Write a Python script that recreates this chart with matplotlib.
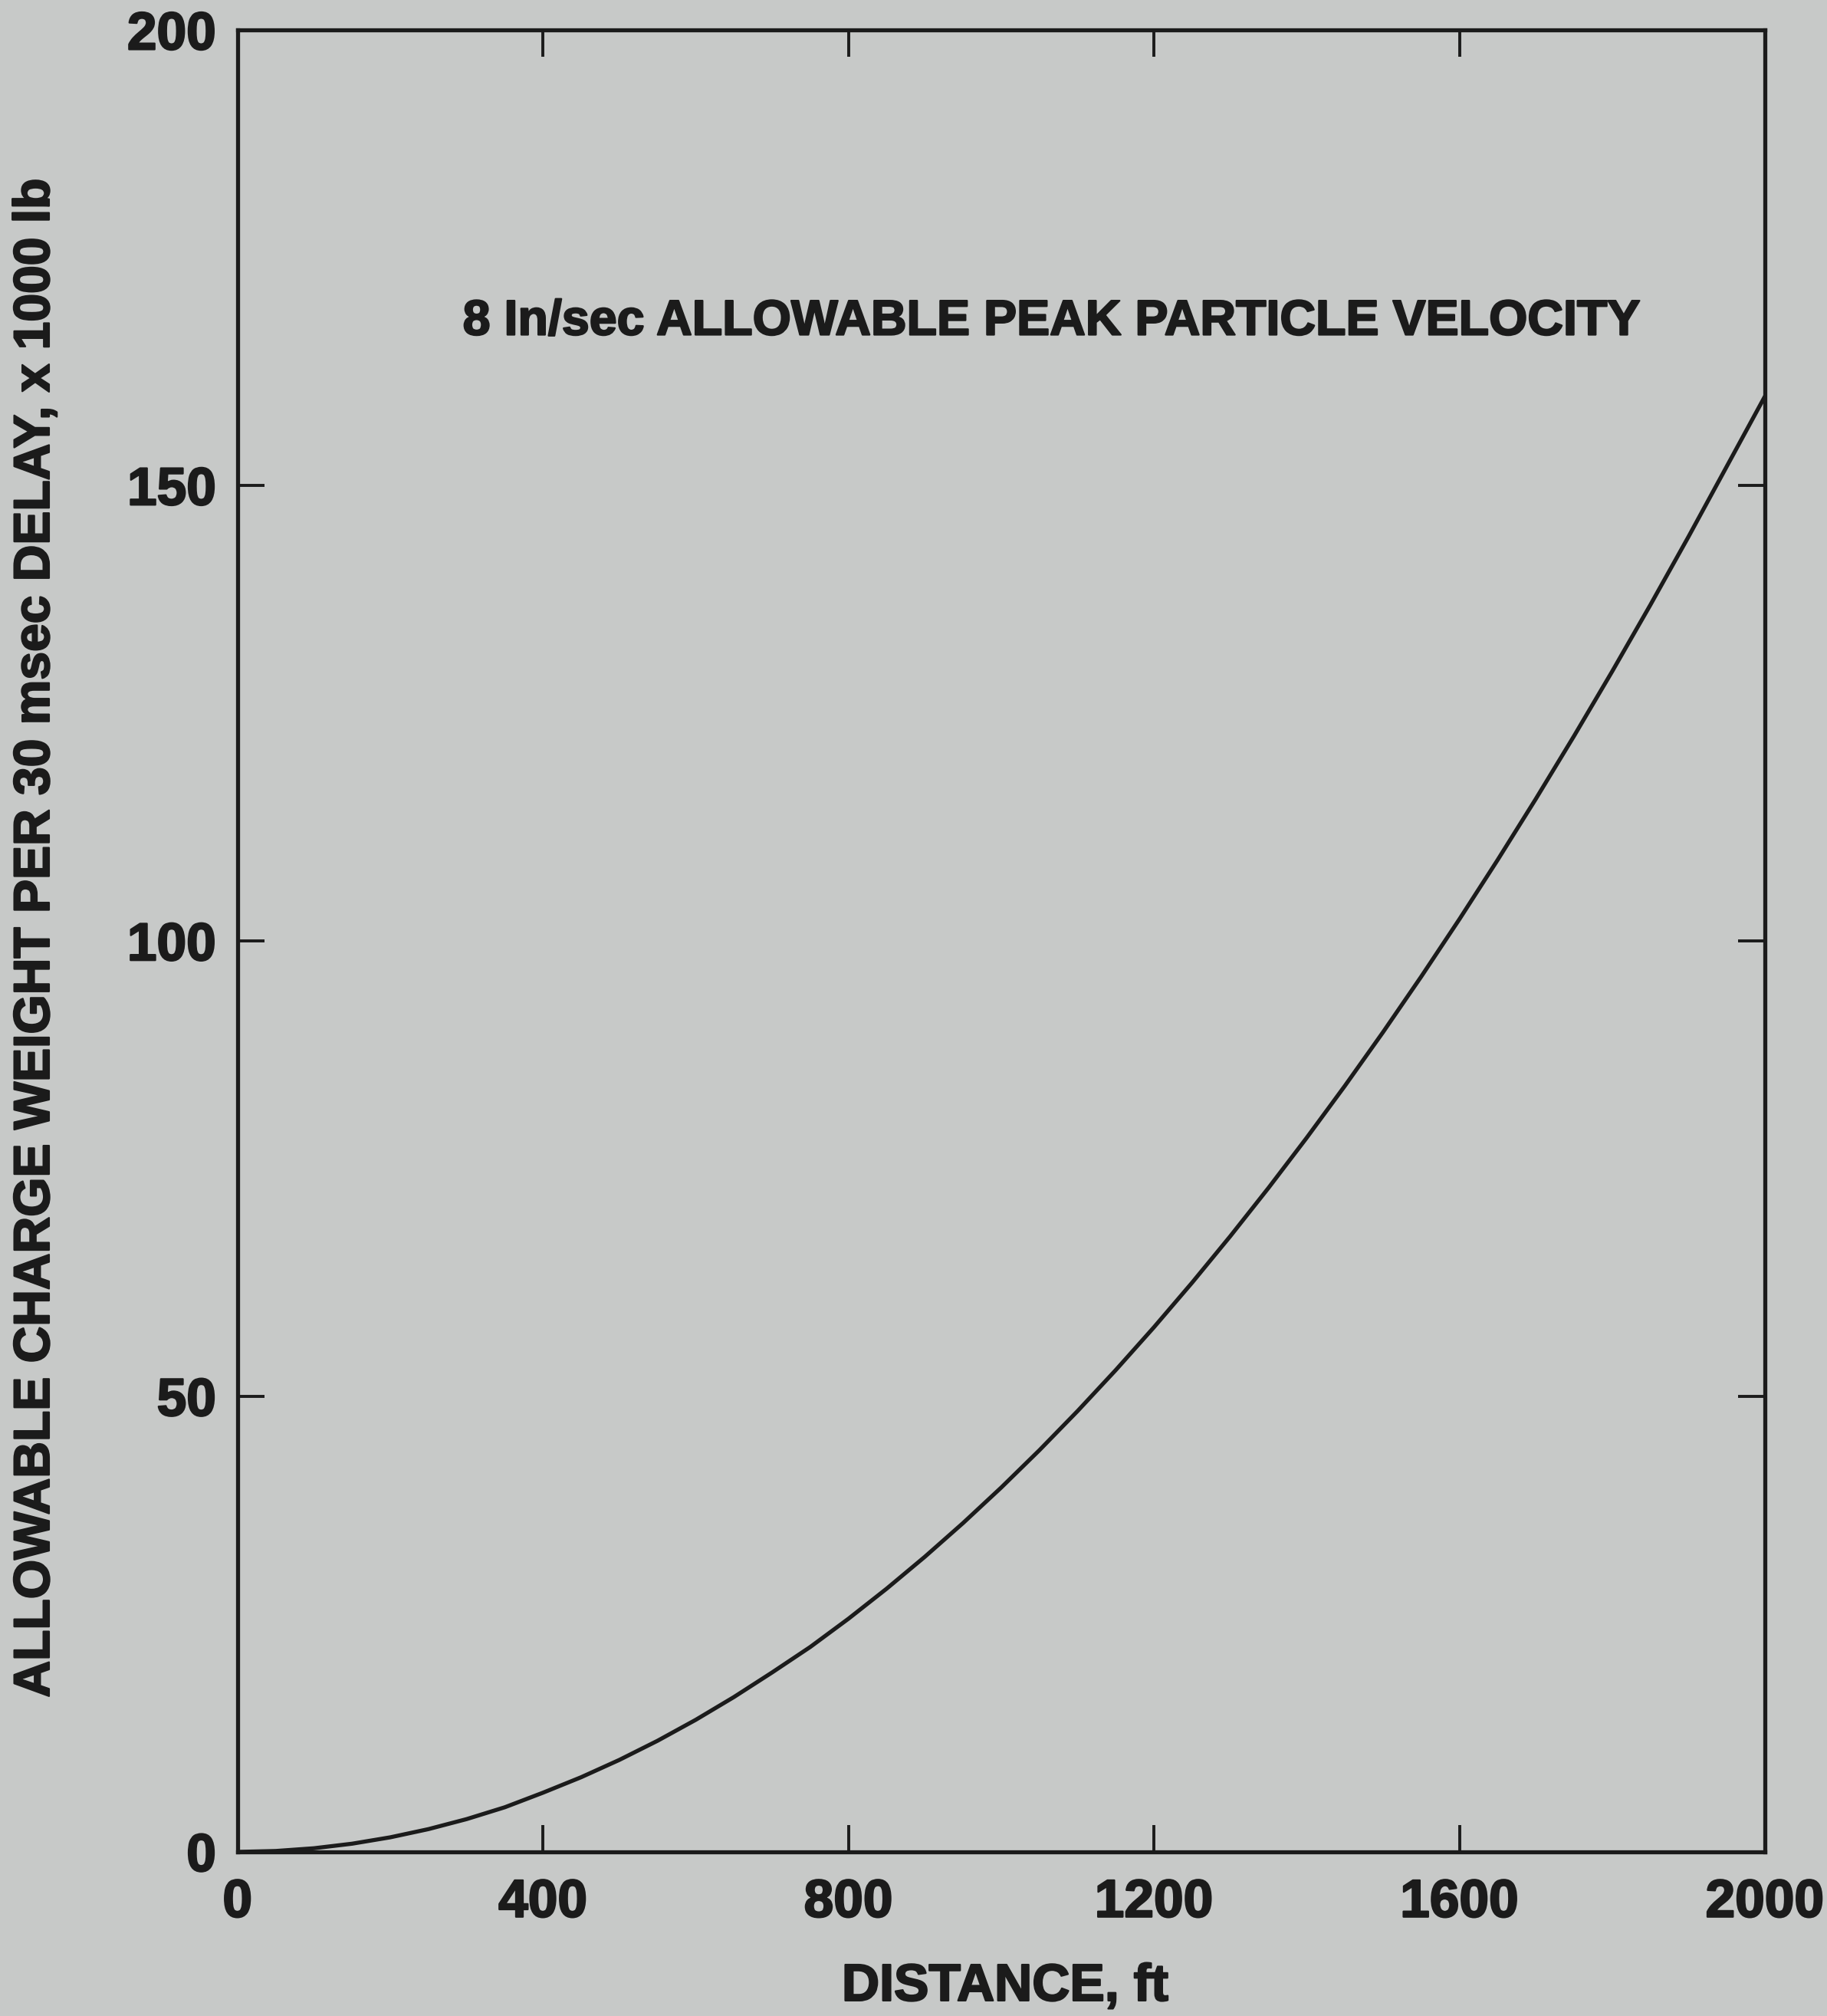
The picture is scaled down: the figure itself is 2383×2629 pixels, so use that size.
import matplotlib
matplotlib.use('Agg')
import matplotlib.pyplot as plt
import matplotlib.patheffects as pe

# distance (ft) vs allowable charge weight per delay (x 1000 lb), 8 in/sec PPV
distance_ft = [0, 50, 100, 150, 200, 250, 300, 350, 400, 450, 500,
               550, 600, 650, 700, 750, 800, 850, 900, 950, 1000,
               1050, 1100, 1150, 1200, 1250, 1300, 1350, 1400, 1450, 1500,
               1550, 1600, 1650, 1700, 1750, 1800, 1850, 1900, 1950, 2000]
charge_klb = [0, 0.1, 0.4, 0.9, 1.6, 2.5, 3.6, 4.9, 6.5, 8.2, 10.1,
              12.2, 14.5, 17.0, 19.7, 22.5, 25.6, 28.9, 32.4, 36.1, 40.0,
              44.1, 48.4, 52.9, 57.6, 62.5, 67.6, 72.9, 78.4, 84.1, 90.0,
              96.1, 102.4, 108.9, 115.6, 122.5, 129.6, 136.9, 144.4, 152.1, 159.8]

x_ticks = [0, 400, 800, 1200, 1600, 2000]
y_ticks = [0, 50, 100, 150, 200]

paper = '#c7c9c8'
ink = '#1b1b1b'

plt.rcParams['font.family'] = ['Liberation Sans', 'DejaVu Sans']
plt.rcParams['font.weight'] = 'bold'

# slightly heavier strokes on the lettering
heavy = [pe.withStroke(linewidth=1.6, foreground=ink)]

fig = plt.figure(figsize=(23.83, 26.29), dpi=100)
fig.patch.set_facecolor(paper)
ax = fig.add_axes([0.130, 0.0814, 0.836, 0.9036])
ax.set_facecolor(paper)

ax.plot(distance_ft, charge_klb, color=ink, linewidth=3.8,
        solid_capstyle='round', solid_joinstyle='round')

ax.set_xlim(0, 2000)
ax.set_ylim(0, 200)
ax.set_xticks(x_ticks)
ax.set_yticks(y_ticks)
ax.set_xticklabels([str(v) for v in x_ticks])
ax.set_yticklabels([str(v) for v in y_ticks])

for side in ax.spines:
    ax.spines[side].set_linewidth(3.8)
    ax.spines[side].set_color(ink)

ax.tick_params(axis='both', which='major', direction='in', length=25, width=2.8,
               color=ink, labelcolor=ink, labelsize=50)
ax.tick_params(axis='x', top=True, pad=25)
ax.tick_params(axis='y', right=True, pad=20)
for lab in ax.get_xticklabels() + ax.get_yticklabels():
    lab.set_fontweight('bold')
    lab.set_path_effects(heavy)

ax.text(295, 168, '8 In/sec ALLOWABLE PEAK PARTICLE VELOCITY', fontsize=46.5,
        fontweight='bold', color=ink, ha='left', va='center', path_effects=heavy)

fig.text(0.550, 0.0145, 'DISTANCE, ft', fontsize=49, fontweight='bold',
         color=ink, ha='center', va='center', path_effects=heavy)
fig.text(0.0197, 0.535, 'ALLOWABLE CHARGE WEIGHT PER 30 msec DELAY, x 1000 lb',
         fontsize=47.5, fontweight='bold', color=ink, ha='center', va='center',
         rotation=90, path_effects=heavy)

plt.savefig('out.png', dpi=100, facecolor=paper)
